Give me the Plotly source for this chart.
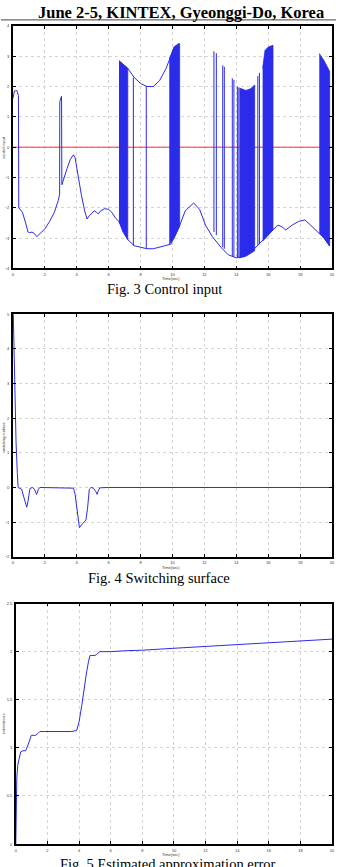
import plotly.graph_objects as go

# ---------------- Fig. 3 : control input ----------------
# main trajectory (lower branch, with early hump and spike)
u_t = [0, 0.1, 0.25, 0.35, 0.37, 0.45, 0.6, 0.8, 0.95, 1.05, 1.2, 1.35, 1.5, 1.7, 2.0, 2.3, 2.6,
       2.85, 2.93, 2.94, 3.05, 3.07, 3.2, 3.4, 3.6, 3.8, 3.9, 4.1, 4.3, 4.5, 4.65, 4.8, 4.95, 5.1,
       5.25, 5.35, 5.5, 5.75, 6.0, 6.2, 6.45, 6.65]
u_v = [1.6, 1.85, 1.87, 1.7, -2.0, -2.05, -2.15, -2.5, -2.8, -2.82, -2.8, -2.85, -2.95, -2.85,
       -2.7, -2.45, -2.15, -1.75, -1.55, 1.5, 1.68, -1.24, -1.0, -0.7, -0.4, -0.25, -0.35, -1.0,
       -1.6, -2.1, -2.37, -2.25, -2.17, -2.1, -2.15, -2.2, -2.1, -2.03, -2.05, -2.15, -2.35, -2.45]

# lower branch after chattering starts
lo_t = [6.65, 7.2, 7.6, 8.0, 8.4, 8.8, 9.2, 9.6, 9.9, 10.4, 10.8, 11.33, 11.7, 12.07, 12.5,
        13.07, 13.5, 14.0, 14.5, 15.0, 15.36, 15.8, 16.3, 16.6, 16.85, 17.1, 17.5, 17.9, 18.3,
        18.65, 18.9, 19.2, 19.5, 19.85]
lo_v = [-2.45, -3.05, -3.25, -3.3, -3.35, -3.35, -3.3, -3.25, -3.2, -2.66, -2.1, -1.84, -2.05,
        -2.57, -2.95, -3.32, -3.55, -3.65, -3.6, -3.42, -3.22, -3.0, -2.73, -2.57, -2.62, -2.73,
        -2.57, -2.45, -2.4, -2.57, -2.7, -2.83, -3.0, -3.26]

# upper branch (switching envelope)
up_t = [6.65, 7.2, 7.6, 8.0, 8.4, 8.8, 9.2, 9.6, 9.9, 10.1, 10.4]
up_v = [2.85, 2.6, 2.3, 2.1, 2.0, 2.0, 2.2, 2.6, 3.0, 3.3, 3.42]

# dense chattering blocks: (times, upper, lower)
blk_t = [[6.65, 6.9, 7.2], [9.8, 10.1, 10.45], [14.2, 14.6, 14.9, 15.15],
         [15.65, 15.8, 16.0, 16.3], [19.2, 19.5, 19.85]]
blk_up = [[2.85, 2.75, 2.6], [2.9, 3.3, 3.42], [1.95, 1.87, 1.93, 2.05],
          [2.6, 3.19, 3.3, 3.36], [3.09, 2.85, 2.5]]
blk_lo = [[-2.45, -2.8, -3.05], [-3.2, -3.0, -2.6], [-3.65, -3.6, -3.5, -3.42],
          [-3.1, -3.0, -2.9, -2.73], [-2.83, -3.0, -3.26]]

# isolated switching spikes: time, top, bottom
sp_t = [7.55, 8.36, 12.6, 12.75, 13.15, 13.25, 13.75, 13.85, 14.07, 14.16, 15.35, 15.45]
sp_top = [2.3, 2.0, 3.16, 3.1, 2.7, 2.65, 2.27, 2.22, 2.0, 1.97, 2.35, 2.45]
sp_bot = [-3.25, -3.35, -2.8, -2.9, -3.3, -3.35, -3.6, -3.62, -3.65, -3.65, -3.22, -3.2]

u_ticks = [-4, -3, -2, -1, 0, 1, 2, 3, 4]

# ---------------- Fig. 4 : switching surface ----------------
s_t = [0, 0.05, 0.12, 0.2, 0.28, 0.33, 0.4, 0.55, 0.7, 0.8, 0.87, 0.95, 1.07, 1.22, 1.35, 1.49,
       1.6, 1.7, 2.5, 3.0, 3.6, 3.8, 3.9, 4.0, 4.1, 4.17, 4.3, 4.45, 4.58, 4.68, 4.79, 4.9, 5.05,
       5.2, 5.28, 5.35, 5.45, 6, 8, 10, 12, 14, 16, 18, 20]
s_v = [5.6, 4.4, 2.8, 1.3, 0.4, 0.0, -0.02, -0.05, -0.3, -0.5, -0.57, -0.4, -0.03, 0.0, -0.05,
       -0.2, -0.05, 0.0, 0.0, 0.0, 0.0, -0.02, -0.2, -0.56, -0.95, -1.16, -1.08, -1.0, -0.94,
       -0.6, -0.05, 0.0, -0.02, -0.12, -0.2, -0.1, -0.01, 0.0, 0.0, 0.0, 0.0, 0.0, 0.0, 0.0, 0.0]
s_ticks = [-2, -1, 0, 1, 2, 3, 4, 5]

# ---------------- Fig. 5 : estimated approximation error ----------------
e_t = [0, 0.03, 0.06, 0.12, 0.21, 0.31, 0.45, 0.62, 0.75, 0.9, 0.98, 1.1, 1.25, 1.4, 1.52, 1.8,
       2.5, 3.0, 3.5, 3.85, 4.0, 4.17, 4.3, 4.48, 4.6, 4.69, 4.8, 5.0, 5.1, 5.2, 5.31, 5.5, 6, 7,
       8, 10, 12, 14, 16, 18, 20]
e_v = [0, 0.4, 0.68, 0.82, 0.89, 0.96, 0.97, 0.97, 1.02, 1.1, 1.13, 1.13, 1.13, 1.15, 1.17, 1.17,
       1.17, 1.17, 1.17, 1.18, 1.27, 1.44, 1.6, 1.79, 1.9, 1.96, 1.96, 1.96, 1.97, 1.99, 2.0, 2.0,
       2.0, 2.01, 2.015, 2.035, 2.055, 2.075, 2.095, 2.11, 2.13]
e_ticks = [0, 0.5, 1, 1.5, 2, 2.5]

x_ticks = list(range(0, 21, 2))

# ---------------------------------------------------------------
W, H = 339, 867
BLUE = '#2b2bea'
RED = '#ff3030'


def fy(py):
    return 1 - py / H


fig = go.Figure()

# Fig 3 traces
fig.add_trace(go.Scatter(x=[0, 20], y=[0, 0], mode='lines', line=dict(color=RED, width=1),
                         xaxis='x', yaxis='y', hoverinfo='skip'))
fig.add_trace(go.Scatter(x=u_t, y=u_v, mode='lines', line=dict(color=BLUE, width=1),
                         xaxis='x', yaxis='y'))
fig.add_trace(go.Scatter(x=lo_t, y=lo_v, mode='lines', line=dict(color=BLUE, width=1),
                         xaxis='x', yaxis='y'))
fig.add_trace(go.Scatter(x=up_t, y=up_v, mode='lines', line=dict(color=BLUE, width=1),
                         xaxis='x', yaxis='y'))
for bt, bu, bl in zip(blk_t, blk_up, blk_lo):
    fig.add_trace(go.Scatter(x=bt + bt[::-1], y=bu + bl[::-1], mode='lines', fill='toself',
                             fillcolor=BLUE, line=dict(color=BLUE, width=0.8),
                             xaxis='x', yaxis='y'))
sx, sy = [], []
for t, a, b in zip(sp_t, sp_top, sp_bot):
    sx += [t, t, None]
    sy += [b, a, None]
fig.add_trace(go.Scatter(x=sx, y=sy, mode='lines', line=dict(color=BLUE, width=1),
                         xaxis='x', yaxis='y'))

# Fig 4
fig.add_trace(go.Scatter(x=s_t, y=s_v, mode='lines', line=dict(color=BLUE, width=1),
                         xaxis='x2', yaxis='y2'))
# Fig 5
fig.add_trace(go.Scatter(x=e_t, y=e_v, mode='lines', line=dict(color=BLUE, width=1),
                         xaxis='x3', yaxis='y3'))

axis_common = dict(showline=True, linecolor='black', linewidth=1.5, mirror='ticks',
                   ticks='inside', ticklen=3, tickcolor='black', tickwidth=0.8,
                   showgrid=True, gridcolor='#d4d4d4', griddash='dot', gridwidth=0.8,
                   zeroline=False, tickfont=dict(size=4, color='#333', family='Arial'))

xd12 = [12 / W, 335 / W]
xd3 = [15 / W, 335 / W]

fig.update_layout(
    width=W, height=H, autosize=False, showlegend=False,
    margin=dict(l=0, r=0, t=0, b=0),
    paper_bgcolor='white', plot_bgcolor='white',
    xaxis=dict(domain=xd12, range=[0, 20], tickvals=x_ticks, anchor='y', ticklabelstandoff=1,
               **axis_common),
    yaxis=dict(domain=[fy(267), fy(23)], range=[-4, 4], tickvals=u_ticks, anchor='x',
               ticklabelstandoff=1, **axis_common),
    xaxis2=dict(domain=xd12, range=[0, 20], tickvals=x_ticks, anchor='y2', ticklabelstandoff=1,
                **axis_common),
    yaxis2=dict(domain=[fy(557), fy(313)], range=[-2, 5], tickvals=s_ticks, anchor='x2',
                ticklabelstandoff=1, **axis_common),
    xaxis3=dict(domain=xd3, range=[0, 20], tickvals=x_ticks, anchor='y3', ticklabelstandoff=1,
                **axis_common),
    yaxis3=dict(domain=[fy(846), fy(604)], range=[0, 2.5], tickvals=e_ticks, anchor='x3',
                ticklabelstandoff=1, **axis_common),
)

serif = 'Liberation Serif'
P = dict(xref='paper', yref='paper', showarrow=False)
ann = []
ann.append(dict(text='<b>June 2-5, KINTEX, Gyeonggi-Do, Korea</b>', x=329 / W, y=fy(10),
                xanchor='right', yanchor='middle',
                font=dict(family=serif, size=16.5, color='black'), **P))
for txt, px, py in [('Fig. 3 Control input', 165, 288), ('Fig. 4 Switching surface', 160, 578),
                    ('Fig. 5 Estimated approximation error', 169, 866)]:
    ann.append(dict(text=txt, x=px / W, y=fy(py), xanchor='center', yanchor='middle',
                    font=dict(family=serif, size=14.5, color='black'), **P))
for py in [277.5, 567.5, 856.5]:
    ann.append(dict(text='Time(sec)', x=172 / W, y=fy(py), xanchor='center', yanchor='middle',
                    font=dict(family='Arial', size=4, color='#333'), **P))
for txt, py in [('control input', 145), ('switching surface', 437), ('estimation ε', 725)]:
    ann.append(dict(text=txt, x=2.5 / W, y=fy(py), xanchor='center', yanchor='middle',
                    textangle=-90, font=dict(family='Arial', size=4, color='#333'), **P))
fig.update_layout(annotations=ann)

fig.add_shape(type='line', xref='paper', yref='paper', x0=0, x1=1, y0=fy(17), y1=fy(17),
              line=dict(color='#444', width=1))

fig.write_html('out.html')
